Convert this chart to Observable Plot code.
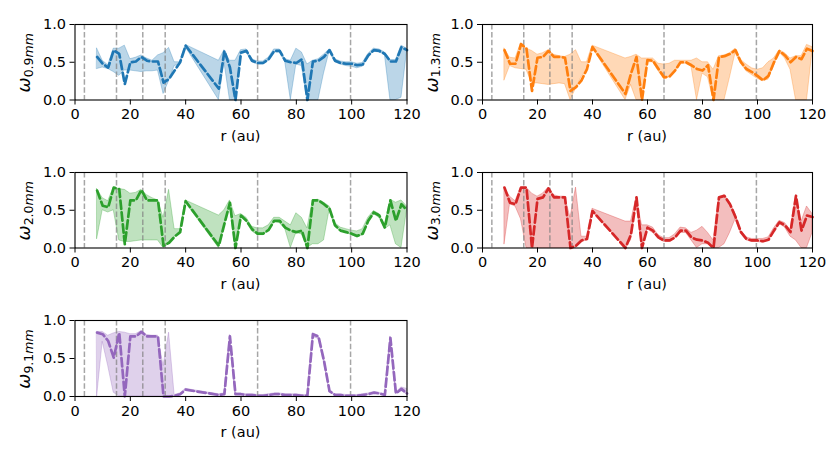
<!DOCTYPE html>
<html>
<head>
<meta charset="utf-8">
<script src="https://cdn.jsdelivr.net/npm/d3@7"></script>
<script src="https://cdn.jsdelivr.net/npm/@observablehq/plot@0.6"></script>
<style>
  html, body { margin: 0; padding: 0; background: #fff; }
  #fig { position: relative; width: 830px; height: 461px; overflow: hidden; background: #fff; }
  #fig > svg { position: absolute; }
</style>
</head>
<body>
<div id="fig"></div>
<script>
// radius grid (au)
const R = [8,10,12,14,16,18,20,22,24,26,28,30,32,34,36,38,40,
  52,54,56,58,60,62,64,66,68,70,72,74,76,78,80,82,84,86,88,90,92,94,96,98,100,102,104,106,108,110,112,114,116,118,120];

// ring / gap locations (au)
const rings = [3.4, 15.0, 24.5, 32.6, 66.0, 99.6];
const xTicks = [0, 20, 40, 60, 80, 100, 120];
const yTicks = [0, 0.5, 1.0];

// 0.9 mm
const w09 = [0.57,0.48,0.43,0.66,0.61,0.21,0.50,0.51,0.57,0.52,0.51,0.51,0.23,0.28,0.39,0.50,0.72,
  0.15,0.65,0.43,0.00,0.63,0.65,0.52,0.49,0.49,0.54,0.65,0.65,0.52,0.50,0.49,0.54,0.00,0.51,0.52,0.57,0.66,0.52,0.49,0.48,0.48,0.46,0.47,0.59,0.66,0.65,0.61,0.51,0.51,0.70,0.66];
const w09lo = [0.41,0.43,0.41,0.37,0.32,0.39,0.39,0.38,0.37,0.38,0.38,0.39,0.08,0.25,0.45,0.47,0.70,
  0.00,0.50,0.00,0.00,0.60,0.63,0.50,0.47,0.47,0.52,0.63,0.63,0.50,0.00,0.47,0.45,0.00,0.00,0.00,0.35,0.64,0.50,0.47,0.45,0.44,0.42,0.44,0.57,0.64,0.63,0.60,0.00,0.00,0.03,0.64];
const w09hi = [0.68,0.52,0.46,0.68,0.68,0.72,0.54,0.56,0.59,0.55,0.52,0.59,0.62,0.69,0.50,0.50,0.73,
  0.52,0.66,0.52,0.52,0.66,0.67,0.54,0.51,0.51,0.56,0.67,0.67,0.54,0.52,0.68,0.63,0.47,0.52,0.54,0.60,0.67,0.54,0.51,0.50,0.50,0.48,0.49,0.61,0.68,0.67,0.63,0.53,0.53,0.72,0.68];

// 1.3 mm
const w13 = [0.66,0.48,0.48,0.74,0.68,0.12,0.56,0.57,0.65,0.57,0.57,0.56,0.12,0.17,0.26,0.41,0.70,
  0.08,0.35,0.57,0.00,0.53,0.52,0.41,0.30,0.31,0.39,0.50,0.50,0.46,0.41,0.39,0.46,0.00,0.57,0.58,0.61,0.66,0.50,0.41,0.37,0.32,0.26,0.32,0.50,0.65,0.59,0.50,0.57,0.54,0.68,0.65];
const w13lo = [0.26,0.45,0.42,0.41,0.40,0.22,0.22,0.21,0.20,0.21,0.22,0.21,0.00,0.15,0.30,0.40,0.69,
  0.00,0.20,0.00,0.00,0.50,0.50,0.38,0.28,0.30,0.38,0.48,0.48,0.44,0.00,0.35,0.30,0.00,0.00,0.00,0.30,0.62,0.48,0.38,0.33,0.28,0.25,0.27,0.45,0.63,0.55,0.40,0.00,0.00,0.00,0.65];
const w13hi = [0.68,0.56,0.55,0.75,0.68,0.65,0.60,0.62,0.66,0.60,0.58,0.57,0.60,0.66,0.50,0.50,0.72,
  0.55,0.57,0.60,0.55,0.55,0.55,0.48,0.47,0.48,0.52,0.52,0.52,0.52,0.55,0.50,0.50,0.40,0.58,0.59,0.62,0.68,0.53,0.47,0.42,0.40,0.42,0.50,0.55,0.66,0.62,0.55,0.58,0.58,0.73,0.70];

// 2.0 mm
const w20 = [0.76,0.56,0.54,0.80,0.78,0.05,0.63,0.63,0.77,0.63,0.63,0.63,0.03,0.07,0.15,0.21,0.62,
  0.03,0.32,0.60,0.00,0.43,0.36,0.25,0.19,0.19,0.24,0.36,0.36,0.27,0.23,0.21,0.23,0.00,0.63,0.63,0.58,0.52,0.30,0.23,0.21,0.19,0.16,0.19,0.36,0.47,0.43,0.27,0.63,0.36,0.58,0.50];
const w20lo = [0.12,0.50,0.47,0.50,0.10,0.08,0.08,0.09,0.10,0.10,0.10,0.10,0.00,0.05,0.15,0.20,0.60,
  0.00,0.30,0.55,0.00,0.40,0.35,0.22,0.17,0.17,0.22,0.35,0.33,0.25,0.00,0.20,0.18,0.00,0.05,0.05,0.10,0.50,0.28,0.22,0.20,0.17,0.14,0.17,0.34,0.45,0.40,0.25,0.30,0.05,0.00,0.50];
const w20hi = [0.78,0.66,0.62,0.80,0.78,0.77,0.72,0.73,0.77,0.70,0.66,0.63,0.40,0.77,0.25,0.25,0.63,
  0.43,0.50,0.63,0.42,0.45,0.40,0.28,0.26,0.26,0.30,0.40,0.40,0.35,0.30,0.46,0.40,0.26,0.63,0.64,0.60,0.55,0.33,0.27,0.25,0.23,0.22,0.25,0.40,0.49,0.45,0.30,0.64,0.60,0.63,0.55];

// 3.0 mm
const w30 = [0.80,0.60,0.58,0.80,0.80,0.00,0.65,0.67,0.79,0.67,0.67,0.67,0.00,0.03,0.10,0.12,0.49,
  0.00,0.18,0.67,0.00,0.27,0.23,0.14,0.10,0.10,0.14,0.23,0.23,0.14,0.11,0.10,0.07,0.00,0.67,0.69,0.58,0.41,0.21,0.12,0.10,0.10,0.09,0.11,0.23,0.34,0.30,0.21,0.69,0.23,0.43,0.41];
const w30lo = [0.05,0.58,0.55,0.38,0.00,0.00,0.00,0.00,0.00,0.00,0.00,0.00,0.00,0.00,0.08,0.10,0.48,
  0.00,0.10,0.60,0.00,0.25,0.20,0.12,0.08,0.08,0.12,0.20,0.20,0.10,0.00,0.05,0.05,0.00,0.00,0.05,0.20,0.38,0.19,0.10,0.08,0.08,0.07,0.10,0.21,0.32,0.27,0.15,0.10,0.00,0.00,0.20];
const w30hi = [0.80,0.68,0.62,0.80,0.80,0.72,0.68,0.72,0.80,0.70,0.68,0.68,0.40,0.80,0.15,0.15,0.52,
  0.35,0.35,0.67,0.30,0.30,0.27,0.17,0.13,0.13,0.18,0.27,0.26,0.20,0.23,0.28,0.20,0.10,0.67,0.70,0.60,0.45,0.23,0.14,0.12,0.12,0.12,0.14,0.26,0.36,0.33,0.24,0.70,0.35,0.55,0.45];

// 9.1 mm
const w91 = [0.84,0.82,0.73,0.51,0.84,0.00,0.79,0.79,0.85,0.79,0.79,0.79,0.00,0.00,0.01,0.03,0.09,
  0.02,0.03,0.79,0.03,0.03,0.02,0.02,0.01,0.01,0.02,0.03,0.03,0.02,0.02,0.02,0.01,0.01,0.82,0.79,0.47,0.07,0.02,0.02,0.01,0.01,0.01,0.02,0.03,0.05,0.04,0.02,0.77,0.04,0.10,0.04];
const w91lo = [0.00,0.72,0.40,0.05,0.00,0.00,0.00,0.00,0.00,0.00,0.00,0.00,0.00,0.00,0.00,0.02,0.08,
  0.01,0.02,0.75,0.02,0.02,0.01,0.01,0.00,0.00,0.01,0.02,0.02,0.01,0.01,0.01,0.00,0.00,0.78,0.76,0.45,0.06,0.01,0.01,0.00,0.00,0.00,0.01,0.02,0.04,0.03,0.01,0.74,0.03,0.07,0.03];
const w91hi = [0.85,0.85,0.80,0.83,0.85,0.84,0.82,0.82,0.86,0.81,0.80,0.80,0.40,0.84,0.02,0.04,0.10,
  0.03,0.04,0.81,0.04,0.04,0.03,0.03,0.02,0.02,0.03,0.04,0.04,0.03,0.03,0.03,0.02,0.02,0.83,0.80,0.49,0.08,0.03,0.03,0.02,0.02,0.02,0.03,0.04,0.06,0.05,0.03,0.79,0.05,0.12,0.10];

const panels = [
  {sub: "0.9", unit: "mm", color: "#1f77b4", y: w09, lo: w09lo, hi: w09hi, col: 0, row: 0},
  {sub: "1.3", unit: "mm", color: "#ff7f0e", y: w13, lo: w13lo, hi: w13hi, col: 1, row: 0},
  {sub: "2.0", unit: "mm", color: "#2ca02c", y: w20, lo: w20lo, hi: w20hi, col: 0, row: 1},
  {sub: "3.0", unit: "mm", color: "#d62728", y: w30, lo: w30lo, hi: w30hi, col: 1, row: 1},
  {sub: "9.1", unit: "mm", color: "#9467bd", y: w91, lo: w91lo, hi: w91hi, col: 0, row: 2}
];

// layout (frame edges in page pixels)
const cols = [{svgLeft: 0, l: 74.5, r: 406.5}, {svgLeft: 415, l: 482, r: 812}];
const rows = [{t: 24, b: 99.5}, {t: 172, b: 247.5}, {t: 319.5, b: 395.5}];
const SVG_W = 415, SVG_H = 140;

const fig = document.getElementById("fig");

for (const p of panels) {
  const c = cols[p.col], rw = rows[p.row];
  const svgTop = rw.t - 24;
  const mL = c.l - c.svgLeft, mR = c.svgLeft + SVG_W - c.r;
  const mT = 24, mB = svgTop + SVG_H - rw.b;
  const data = R.map((r, i) => ({r, w: p.y[i], lo: p.lo[i], hi: p.hi[i]}));

  const svg = Plot.plot({
    width: SVG_W, height: SVG_H,
    marginLeft: mL, marginRight: mR, marginTop: mT, marginBottom: mB,
    style: {fontFamily: "DejaVu Sans", fontSize: "14.5px", color: "black", background: "transparent", overflow: "visible"},
    x: {domain: [0, 120], label: null},
    y: {domain: [0, 1], label: null},
    marks: [
      Plot.areaY(data, {x: "r", y1: "lo", y2: "hi", fill: p.color, fillOpacity: 0.3, stroke: p.color, strokeOpacity: 0.3, strokeWidth: 1}),
      Plot.ruleX(rings, {stroke: "#808080", strokeOpacity: 0.7, strokeWidth: 1.5, strokeDasharray: "5.5,2.4"}),
      Plot.lineY(data, {x: "r", y: "w", stroke: p.color, strokeWidth: 2.7, strokeDasharray: "8.3,3.6"}),
      Plot.frame({stroke: "black", strokeWidth: 1.1}),
      Plot.axisX({ticks: xTicks, tickSize: 5, tickPadding: 4, tickFormat: d => String(d), label: null}),
      Plot.axisY({ticks: yTicks, tickSize: 5, tickPadding: 4, tickFormat: d3.format(".1f"), label: null})
    ]
  });
  svg.style.left = c.svgLeft + "px";
  svg.style.top = svgTop + "px";

  const s = d3.select(svg);
  // x label
  s.append("text")
    .attr("x", (mL + SVG_W - mR) / 2)
    .attr("y", SVG_H - mB + 41)
    .attr("text-anchor", "middle")
    .attr("fill", "black")
    .style("font-size", "14.5px")
    .text("r (au)");
  // y label  ω_{x.xmm}
  const yl = s.append("text")
    .attr("transform", `translate(${mL - 44.5},${(mT + SVG_H - mB) / 2 + 1}) rotate(-90)`)
    .attr("text-anchor", "middle")
    .attr("fill", "black");
  yl.append("tspan").style("font-size", "18px").style("font-style", "italic").text("ω");
  yl.append("tspan").attr("dy", 2.8).style("font-size", "12.5px").text(p.sub);
  yl.append("tspan").style("font-size", "12.5px").style("font-style", "italic").text(p.unit);

  fig.appendChild(svg);
}
</script>
</body>
</html>
